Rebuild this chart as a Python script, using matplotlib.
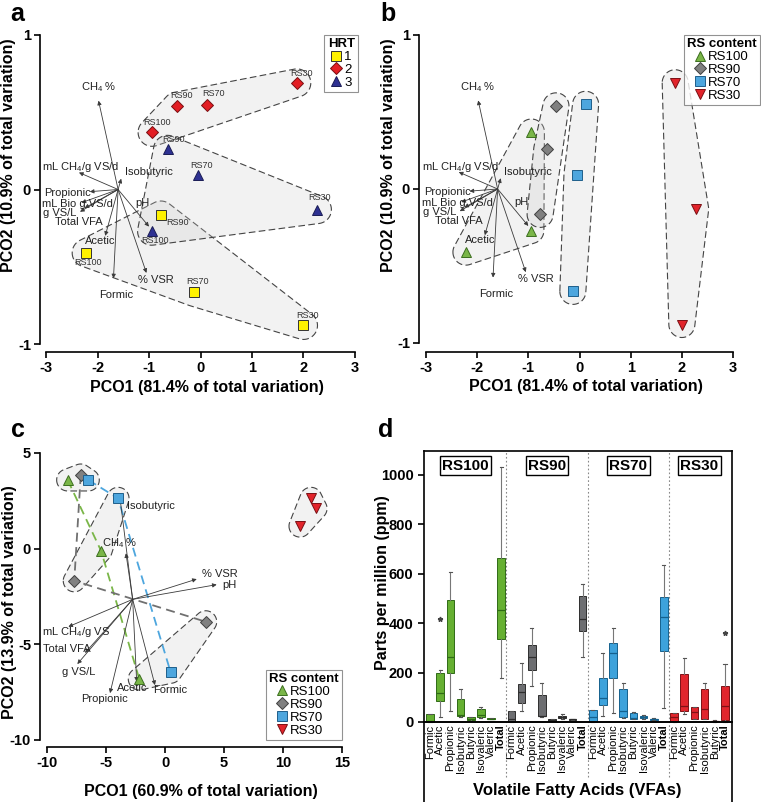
import numpy as np
import matplotlib.pyplot as plt
from matplotlib.patches import Polygon
from matplotlib.lines import Line2D

plt.rcParams['font.family'] = ['Liberation Sans', 'DejaVu Sans']
plt.rcParams['mathtext.fontset'] = 'custom'
plt.rcParams['mathtext.rm'] = 'Liberation Sans'
plt.rcParams['mathtext.default'] = 'regular'
plt.rcParams['axes.unicode_minus'] = False

# ---- PCO data, panels a and b (order: HRT1, HRT2, HRT3; each RS100, RS90, RS70, RS30)
pco1_ab = [-2.22, -0.77, -0.13, 2.00, -0.94, -0.46, 0.12, 1.87, -0.95, -0.64, -0.05, 2.27]
pco2_ab = [-0.41, -0.165, -0.665, -0.88, 0.37, 0.54, 0.55, 0.69, -0.27, 0.26, 0.094, -0.13]
hrt_ab = [1, 1, 1, 1, 2, 2, 2, 2, 3, 3, 3, 3]
rs_ab = ['RS100', 'RS90', 'RS70', 'RS30'] * 3

vec_names_ab = ['CH$_4$ %', 'mL CH$_4$/g VS/d', 'Isobutyric', 'Propionic', 'mL Bio g VS/d',
                'g VS/L', 'Total VFA', 'pH', 'Acetic', '% VSR', 'Formic']
vec_x_ab = [-1.98, -2.36, -1.54, -2.15, -2.31, -2.34, -2.25, -1.00, -1.85, -1.05, -1.69]
vec_y_ab = [0.575, 0.11, 0.07, -0.014, -0.085, -0.144, -0.12, -0.24, -0.30, -0.54, -0.575]
vec_origin_ab = (-1.6, 0.0)

# ---- PCO data, panel c (order: stage 1, 2, 3; each RS100, RS90, RS70, RS30)
pco1_c = [-8.25, -7.14, -6.50, 12.37, -5.42, -7.69, -3.98, 12.80, -2.18, 3.45, 0.48, 11.44]
pco2_c = [3.59, 3.85, 3.59, 2.63, -0.11, -1.68, 2.63, 2.10, -6.81, -3.82, -6.46, 1.18]
rs_c = ['RS100', 'RS90', 'RS70', 'RS30'] * 3

vec_names_c = ['Isobutyric', 'CH$_4$ %', '% VSR', 'pH', 'mL CH$_4$/g VS', 'Total VFA',
               'g VS/L', 'Propionic', 'Acetic', 'Formic']
vec_x_c = [-3.81, -3.31, 2.69, 4.38, -8.19, -6.78, -7.43, -4.66, -2.40, -0.85]
vec_y_c = [2.63, -0.24, -1.59, -1.88, -4.08, -5.45, -6.03, -7.55, -6.95, -7.13]
vec_origin_c = (-2.74, -2.65)

# ---- VFA box statistics (ppm), panel d
vfa_full = ['Formic', 'Acetic', 'Propionic', 'Isobutyric', 'Butyric', 'Isovaleric', 'Valeric', 'Total']
vfa_rs30 = ['Formic', 'Acetic', 'Propionic', 'Isobutyric', 'Butyric', 'Total']

rs100_lo = [0, 20, 43, 20, 5, 15, 12, 177]
rs100_q1 = [0, 83, 200, 23, 8, 20, 12, 335]
rs100_med = [3, 117, 264, 28, 12, 30, 14, 453]
rs100_q3 = [34, 200, 494, 94, 20, 54, 16, 663]
rs100_hi = [34, 211, 609, 135, 22, 61, 16, 1034]
rs100_out = [[], [417], [], [], [], [], [], []]

rs90_lo = [0, 43, 147, 20, 2, 12, 8, 262]
rs90_q1 = [0, 77, 209, 23, 3, 15, 9, 370]
rs90_med = [12, 123, 265, 25, 6, 20, 10, 417]
rs90_q3 = [43, 155, 312, 110, 10, 25, 11, 510]
rs90_hi = [43, 238, 380, 157, 12, 32, 12, 559]
rs90_out = [[]] * 8

rs70_lo = [0, 26, 36, 15, 10, 12, 8, 57]
rs70_q1 = [0, 70, 180, 20, 13, 15, 9, 287]
rs70_med = [20, 97, 279, 46, 18, 20, 11, 426]
rs70_q3 = [50, 177, 321, 133, 36, 25, 14, 505]
rs70_hi = [50, 279, 380, 157, 40, 28, 15, 636]
rs70_out = [[]] * 8

rs30_lo = [0, 33, 10, 10, 0, 0]
rs30_q1 = [3, 43, 13, 13, 2, 9]
rs30_med = [20, 63, 40, 52, 3, 66]
rs30_q3 = [36, 195, 61, 135, 5, 144]
rs30_hi = [36, 258, 61, 157, 6, 233]
rs30_out = [[], [], [], [], [], [362]]

# ---- styles
hrt_style = {1: ('s', '#FFF200', '#333333'), 2: ('D', '#E31E24', '#7A0F12'), 3: ('^', '#2E3192', '#1A1C55')}
rs_style = {'RS100': ('^', '#7AB648', '#3C6E1F'), 'RS90': ('D', '#808080', '#404040'),
            'RS70': ('s', '#4DA6DE', '#1F5F8B'), 'RS30': ('v', '#E2242B', '#7A1014')}
box_colors = {'RS100': ('#66B032', '#2F6B16'), 'RS90': ('#6D6E71', '#2E2E2E'),
              'RS70': ('#3DA2DB', '#15618E'), 'RS30': ('#E1262D', '#7E1216')}


def convex_hull(p):
    p = sorted(map(tuple, p))

    def cross(o, a, b):
        return (a[0] - o[0]) * (b[1] - o[1]) - (a[1] - o[1]) * (b[0] - o[0])
    lower, upper = [], []
    for q in p:
        while len(lower) >= 2 and cross(lower[-2], lower[-1], q) <= 0:
            lower.pop()
        lower.append(q)
    for q in reversed(p):
        while len(upper) >= 2 and cross(upper[-2], upper[-1], q) <= 0:
            upper.pop()
        upper.append(q)
    return np.array(lower[:-1] + upper[:-1])


def hull(ax, xs, ys, pad):
    pts = ax.transData.transform(np.column_stack([xs, ys]))
    t = np.linspace(0, 2 * np.pi, 48, endpoint=False)
    ring = np.concatenate([p + pad * np.column_stack([np.cos(t), np.sin(t)]) for p in pts])
    h = ax.transData.inverted().transform(convex_hull(ring))
    ax.add_patch(Polygon(h, closed=True, fc=(0.8, 0.8, 0.8, 0.25), ec='#444444',
                         ls=(0, (6, 3)), lw=0.8, zorder=1))


def arrows(ax, origin, xs, ys):
    for x, y in zip(xs, ys):
        ax.annotate('', xy=(x, y), xytext=origin,
                    arrowprops=dict(arrowstyle='-|>', color='#3a3a3a', lw=0.6,
                                    mutation_scale=6, shrinkA=0, shrinkB=0), zorder=2)


def style_axes(ax, xt, yt, lpad, bpad):
    for s in ['top', 'right']:
        ax.spines[s].set_visible(False)
    ax.spines['left'].set_position(('outward', lpad))
    ax.spines['bottom'].set_position(('outward', bpad))
    ax.spines['left'].set_linewidth(1.2)
    ax.spines['bottom'].set_linewidth(1.2)
    ax.set_xticks(xt)
    ax.set_yticks(yt)
    ax.tick_params(width=1.2, length=4, pad=2.5, labelsize=10.5)
    for lab in ax.get_xticklabels() + ax.get_yticklabels():
        lab.set_fontweight('bold')


def legend(ax, handles, labels, title, loc, anchor):
    leg = ax.legend(handles, labels, title=title, loc=loc, bbox_to_anchor=anchor, fontsize=9.5,
                    title_fontproperties={'weight': 'bold', 'size': 9.5},
                    fancybox=False, edgecolor='#777777', handlelength=0.8, handletextpad=0.2,
                    borderpad=0.25, labelspacing=0.05, borderaxespad=0)
    leg.get_frame().set_linewidth(0.8)


fig = plt.figure(figsize=(7.61, 8.02), dpi=100)
lab_font = dict(fontsize=11.5, fontweight='bold', va='center')

# ================= panel a =================
axa = fig.add_axes([0.06045, 0.57107, 0.40604, 0.38529])
axa.set_xlim(-3, 3)
axa.set_ylim(-1, 1)
style_axes(axa, [-3, -2, -1, 0, 1, 2, 3], [-1, 0, 1], 4.3, 5.8)
for h in [1, 2, 3]:
    idx = [i for i in range(12) if hrt_ab[i] == h]
    hull(axa, [pco1_ab[i] for i in idx], [pco2_ab[i] for i in idx], 14)
arrows(axa, vec_origin_ab, vec_x_ab, vec_y_ab)
lab_ab = [(-1.98, 0.66, 'center'), (-3.08, 0.146, 'left'), (-1.47, 0.113, 'left'),
          (-3.04, -0.02, 'left'), (-3.08, -0.094, 'left'), (-3.06, -0.15, 'left'),
          (-2.83, -0.21, 'left'), (-1.27, -0.087, 'left'), (-2.24, -0.333, 'left'),
          (-1.21, -0.586, 'left'), (-1.97, -0.683, 'left')]
for name, (tx, ty, ha) in zip(vec_names_ab, lab_ab):
    axa.text(tx, ty, name, fontsize=8, ha=ha, va='center', color='#222222', zorder=3)
pt_off = [(2, -10), (17, -8), (4, 11), (4, 10), (5, 10), (5, 11), (7, 11), (5, 9),
          (3, -9), (6, 10), (4, 9), (2, 12)]
for i in range(12):
    m, fc, ec = hrt_style[hrt_ab[i]]
    axa.plot(pco1_ab[i], pco2_ab[i], marker=m, ms=7 if m != 'D' else 6.5, mfc=fc, mec=ec,
             mew=0.7, ls='none', zorder=4)
    dx, dy = pt_off[i]
    axa.annotate(rs_ab[i], (pco1_ab[i], pco2_ab[i]), xytext=(dx * 0.72, dy * 0.72),
                 textcoords='offset points', fontsize=6.5, ha='center', va='center',
                 color='#333333', zorder=5)
hand = [Line2D([], [], marker=hrt_style[h][0], mfc=hrt_style[h][1], mec=hrt_style[h][2],
               ms=6.5, ls='none', mew=0.7) for h in [1, 2, 3]]
legend(axa, hand, ['1', '2', '3'], 'HRT', 'upper right', (1.01, 1.0))
axa.set_ylabel('PCO2 (10.9% of total variation)', **lab_font)
axa.yaxis.set_label_coords(-0.122, 0.61)
axa.set_xlabel('PCO1 (81.4% of total variation)', **lab_font)
axa.xaxis.set_label_coords(0.52, -0.142)

# ================= panel b =================
axb = fig.add_axes([0.55979, 0.57232, 0.40342, 0.38404])
axb.set_xlim(-3, 3)
axb.set_ylim(-1, 1)
style_axes(axb, [-3, -2, -1, 0, 1, 2, 3], [-1, 0, 1], 5, 6.2)
for rs in ['RS100', 'RS90', 'RS70', 'RS30']:
    idx = [i for i in range(12) if rs_ab[i] == rs]
    hull(axb, [pco1_ab[i] for i in idx], [pco2_ab[i] for i in idx], 13)
arrows(axb, vec_origin_ab, vec_x_ab, vec_y_ab)
for name, (tx, ty, ha) in zip(vec_names_ab, lab_ab):
    axb.text(tx, ty, name, fontsize=8, ha=ha, va='center', color='#222222', zorder=3)
for i in range(12):
    m, fc, ec = rs_style[rs_ab[i]]
    axb.plot(pco1_ab[i], pco2_ab[i], marker=m, ms=7 if m != 'D' else 6.5, mfc=fc, mec=ec,
             mew=0.7, ls='none', zorder=4)
hand = [Line2D([], [], marker=rs_style[r][0], mfc=rs_style[r][1], mec=rs_style[r][2],
               ms=6.5, ls='none', mew=0.7) for r in ['RS100', 'RS90', 'RS70', 'RS30']]
legend(axb, hand, ['RS100', 'RS90', 'RS70', 'RS30'], 'RS content', 'upper right', (1.088, 1.0))
axb.set_ylabel('PCO2 (10.9% of total variation)', **lab_font)
axb.yaxis.set_label_coords(-0.122, 0.61)
axb.set_xlabel('PCO1 (81.4% of total variation)', **lab_font)
axb.xaxis.set_label_coords(0.52, -0.14)

# ================= panel c =================
axc = fig.add_axes([0.06176, 0.07731, 0.38765, 0.35786])
axc.set_xlim(-10, 15)
axc.set_ylim(-10, 5)
style_axes(axc, [-10, -5, 0, 5, 10, 15], [-10, -5, 0, 5], 5, 5)
for grp in [[0, 1, 2], [4, 5, 6], [8, 9, 10], [3, 7, 11]]:
    hull(axc, [pco1_c[i] for i in grp], [pco2_c[i] for i in grp], 11)
line_cols = {'RS100': '#7AB648', 'RS90': '#707070', 'RS70': '#4DA6DE'}
for rs, col in line_cols.items():
    idx = [i for i in range(12) if rs_c[i] == rs]
    axc.plot([pco1_c[i] for i in idx], [pco2_c[i] for i in idx], ls=(0, (5, 3)), color=col,
             lw=1.3, zorder=2)
arrows(axc, vec_origin_c, vec_x_c, vec_y_c)
lab_c = [(-3.22, 2.23), (-5.34, 0.3), (3.14, -1.33), (4.83, -1.9), (-10.42, -4.36),
         (-10.34, -5.25), (-8.73, -6.45), (-7.12, -7.86), (-4.07, -7.28), (-1.0, -7.39)]
for name, (tx, ty) in zip(vec_names_c, lab_c):
    axc.text(tx, ty, name, fontsize=8, ha='left', va='center', color='#222222', zorder=3)
for i in range(12):
    m, fc, ec = rs_style[rs_c[i]]
    axc.plot(pco1_c[i], pco2_c[i], marker=m, ms=7 if m != 'D' else 6.5, mfc=fc, mec=ec,
             mew=0.7, ls='none', zorder=4)
legend(axc, hand, ['RS100', 'RS90', 'RS70', 'RS30'], 'RS content', 'lower right', (1.0, 0.0))
axc.set_ylabel('PCO2 (13.9% of total variation)', **lab_font)
axc.yaxis.set_label_coords(-0.128, 0.48)
axc.set_xlabel('PCO1 (60.9% of total variation)', **lab_font)
axc.xaxis.set_label_coords(0.52, -0.18)

# ================= panel d =================
axd = fig.add_axes([0.55716, 0.0, 0.40473, 0.43766])
axd.set_xlim(-0.59, 29.69)
axd.set_ylim(-324, 1097)
for s in ['left', 'right', 'top']:
    axd.spines[s].set_linewidth(1.2)
# the zero line doubles as the x axis, so the acid names sit under it as tick labels
axd.spines['bottom'].set_position(('data', 0))
axd.spines['bottom'].set_linewidth(1.4)
axd.set_yticks([0, 200, 400, 600, 800, 1000])
axd.tick_params(axis='y', width=1.2, length=4, labelsize=10.5)
for lab in axd.get_yticklabels():
    lab.set_fontweight('bold')
axd.vlines([7.5, 15.5, 23.5], -223, 1097, linestyles=(0, (1.5, 2)), colors='#888888', lw=0.8)

groups = [('RS100', vfa_full, rs100_lo, rs100_q1, rs100_med, rs100_q3, rs100_hi, rs100_out),
          ('RS90', vfa_full, rs90_lo, rs90_q1, rs90_med, rs90_q3, rs90_hi, rs90_out),
          ('RS70', vfa_full, rs70_lo, rs70_q1, rs70_med, rs70_q3, rs70_hi, rs70_out),
          ('RS30', vfa_rs30, rs30_lo, rs30_q1, rs30_med, rs30_q3, rs30_hi, rs30_out)]
pos0 = 0
centers, all_pos, all_names = [], [], []
for rs, names, lo, q1, med, q3, hi, out in groups:
    stats = [dict(med=med[k], q1=q1[k], q3=q3[k], whislo=lo[k], whishi=hi[k], fliers=out[k])
             for k in range(len(names))]
    pos = list(range(pos0, pos0 + len(names)))
    fc, ec = box_colors[rs]
    axd.bxp(stats, positions=pos, widths=0.75, patch_artist=True, capwidths=0.3,
            manage_ticks=False,
            boxprops=dict(facecolor=fc, edgecolor=ec, lw=0.7),
            medianprops=dict(color=ec, lw=0.9),
            whiskerprops=dict(color='#777777', lw=0.8),
            capprops=dict(color='#555555', lw=0.8),
            flierprops=dict(marker='*', ms=3.5, mfc='#444444', mec='#444444'))
    centers.append((pos[0] + pos[-1]) / 2)
    all_pos += pos
    all_names += names
    pos0 += len(names)
axd.set_xticks(all_pos)
axd.set_xticklabels(all_names, rotation=90, fontsize=8)
axd.tick_params(axis='x', length=0, pad=2)
for lab in axd.get_xticklabels():
    if lab.get_text() == 'Total':
        lab.set_fontweight('bold')
for rs, cx in zip(['RS100', 'RS90', 'RS70', 'RS30'], centers):
    axd.text(cx, 1038, rs, ha='center', va='center', fontsize=11, fontweight='bold',
             bbox=dict(boxstyle='square,pad=0.15', fc='white', ec='black', lw=1))
axd.set_ylabel('Parts per million (ppm)', **lab_font)
axd.yaxis.set_label_coords(-0.135, 0.624)
axd.text(0.497, 0.034, 'Volatile Fatty Acids (VFAs)', transform=axd.transAxes, ha='center',
         va='center', fontsize=12, fontweight='bold')

# panel letters
for lx, ly, t in [(17, 14, 'a'), (388, 14, 'b'), (18, 430, 'c'), (386, 430, 'd')]:
    fig.text(lx / 761, 1 - ly / 802, t, fontsize=18, fontweight='bold', ha='center', va='center')

fig.savefig('out.png', dpi=100)
